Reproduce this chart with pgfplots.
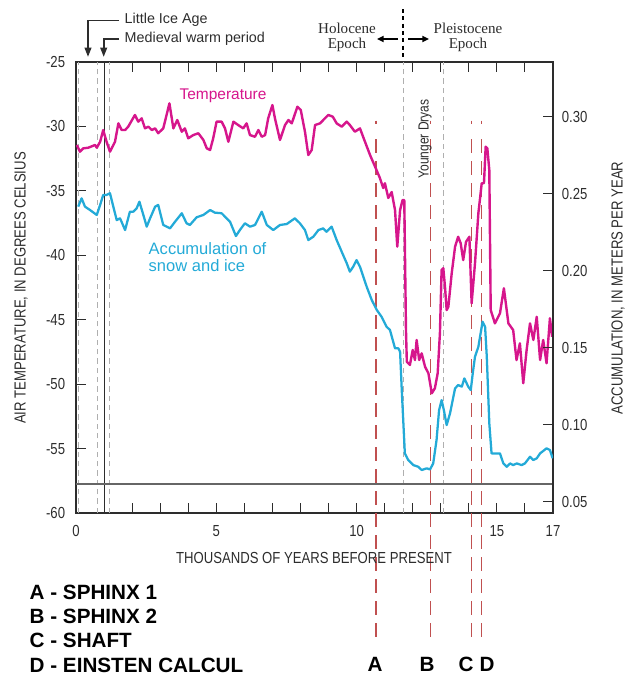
\documentclass[border=0pt]{standalone}
\usepackage{pgfplots}
\pgfplotsset{compat=1.18}
\usepackage{fontspec}
\setmainfont{Liberation Sans}
\newfontfamily\cond[FakeStretch=0.82]{Liberation Sans}
\newfontfamily\serif{Liberation Serif}
\usetikzlibrary{arrows.meta}

\definecolor{tempc}{RGB}{214,22,140}
\definecolor{accc}{RGB}{35,170,215}
\definecolor{markc}{RGB}{192,80,80}
\definecolor{lgray}{RGB}{175,175,175}
\definecolor{txt}{RGB}{45,45,45}

\pgfplotstableread{
x T
0.03 -31.44
0.14 -31.96
0.26 -31.70
0.44 -31.65
0.68 -31.44
0.74 -31.65
0.86 -31.19
0.97 -30.28
1.09 -31.19
1.21 -31.96
1.39 -31.19
1.51 -29.76
1.63 -30.28
1.75 -30.28
1.86 -30.02
2.10 -29.11
2.22 -29.63
2.34 -29.37
2.46 -30.15
2.58 -30.02
2.70 -30.28
2.82 -30.15
2.93 -30.53
3.11 -30.15
3.33 -28.21
3.47 -30.15
3.61 -29.50
3.77 -30.41
3.88 -30.15
4.00 -30.92
4.18 -30.67
4.36 -30.53
4.54 -31.05
4.66 -31.70
4.78 -31.83
4.89 -30.92
5.01 -29.63
5.19 -29.63
5.31 -30.15
5.43 -31.19
5.61 -29.63
5.78 -29.89
5.96 -30.15
6.08 -29.76
6.20 -30.67
6.38 -30.80
6.50 -30.28
6.62 -30.80
6.74 -30.67
6.85 -29.37
7.00 -28.34
7.09 -29.37
7.27 -31.05
7.45 -29.89
7.57 -29.50
7.69 -29.76
7.89 -28.47
8.01 -28.72
8.16 -30.41
8.28 -32.22
8.40 -31.83
8.52 -29.89
8.70 -29.76
8.87 -29.37
8.99 -29.11
9.15 -29.24
9.29 -29.76
9.47 -30.02
9.65 -29.63
9.76 -29.89
9.94 -30.41
10.12 -30.15
10.30 -31.19
10.48 -32.22
10.66 -33.13
10.83 -34.00
10.95 -34.78
11.01 -34.41
11.13 -35.55
11.25 -35.09
11.37 -36.49
11.45 -39.33
11.55 -36.49
11.64 -35.71
11.70 -35.71
11.76 -45.80
11.79 -48.26
11.90 -48.51
12.00 -47.35
12.08 -48.13
12.14 -46.57
12.23 -48.13
12.32 -47.61
12.44 -48.65
12.56 -49.16
12.68 -50.71
12.79 -50.32
12.89 -49.16
12.97 -46.05
13.03 -41.14
13.09 -41.00
13.15 -42.44
13.21 -44.25
13.27 -44.00
13.39 -41.40
13.51 -39.33
13.62 -38.56
13.71 -39.07
13.80 -40.37
13.90 -38.95
14.02 -38.56
14.10 -43.73
14.22 -40.62
14.34 -36.74
14.46 -34.41
14.54 -34.41
14.60 -31.57
14.66 -31.70
14.73 -33.38
14.78 -44.25
14.93 -45.28
15.11 -44.50
15.25 -42.56
15.41 -45.28
15.58 -45.80
15.70 -48.13
15.82 -46.83
15.94 -49.93
16.06 -47.35
16.18 -45.28
16.30 -46.57
16.42 -44.77
16.54 -48.13
16.65 -46.57
16.77 -48.38
16.89 -44.89
16.97 -46.32
}\temptable

\pgfplotstableread{
x A
0.08 0.2416
0.20 0.2470
0.32 0.2416
0.50 0.2394
0.74 0.2362
0.86 0.2427
0.97 0.2492
1.09 0.2492
1.21 0.2503
1.33 0.2416
1.45 0.2329
1.57 0.2340
1.75 0.2264
1.92 0.2383
2.04 0.2383
2.16 0.2405
2.26 0.2448
2.40 0.2362
2.52 0.2286
2.64 0.2340
2.82 0.2416
2.93 0.2427
3.11 0.2297
3.35 0.2275
3.53 0.2318
3.77 0.2373
3.94 0.2308
4.06 0.2297
4.30 0.2347
4.54 0.2362
4.78 0.2394
4.95 0.2377
5.19 0.2373
5.49 0.2318
5.70 0.2225
5.84 0.2264
6.02 0.2308
6.20 0.2286
6.38 0.2297
6.62 0.2383
6.80 0.2297
7.03 0.2264
7.27 0.2297
7.51 0.2303
7.80 0.2340
7.98 0.2308
8.16 0.2264
8.28 0.2199
8.46 0.2221
8.64 0.2264
8.81 0.2275
8.93 0.2253
9.11 0.2286
9.29 0.2199
9.47 0.2123
9.65 0.2048
9.76 0.1994
9.88 0.2026
10.00 0.2069
10.12 0.2026
10.24 0.1961
10.36 0.1896
10.54 0.1810
10.72 0.1745
10.89 0.1701
11.07 0.1636
11.19 0.1615
11.37 0.1496
11.49 0.1496
11.55 0.1474
11.61 0.1225
11.72 0.0814
11.84 0.0771
12.02 0.0738
12.20 0.0727
12.32 0.0706
12.50 0.0717
12.62 0.0710
12.73 0.0749
12.85 0.0901
12.94 0.1095
13.03 0.1160
13.11 0.1095
13.21 0.0998
13.33 0.1074
13.51 0.1236
13.62 0.1258
13.75 0.1247
13.84 0.1301
13.98 0.1247
14.07 0.1225
14.14 0.1334
14.22 0.1442
14.34 0.1506
14.49 0.1669
14.58 0.1636
14.64 0.1442
14.73 0.1009
14.81 0.0814
14.99 0.0814
15.11 0.0814
15.23 0.0749
15.35 0.0727
15.47 0.0749
15.58 0.0738
15.71 0.0749
15.88 0.0738
16.00 0.0749
16.18 0.0792
16.30 0.0771
16.42 0.0782
16.54 0.0814
16.77 0.0847
16.89 0.0836
16.99 0.0782
}\acctable

\pgfplotsset{
  chart/.style={
    width=357.75pt, height=338.25pt, scale only axis,
    at={(57pt,-384.75pt)}, anchor=south west,
    xmin=0, xmax=17,
    tick align=inside, major tick length=7.5pt,
    axis line style={line width=1pt, txt},
    tick style={line width=0.8pt, txt},
    ticklabel style={font=\cond\fontsize{12}{12}\selectfont, text=txt},
  }
}

\begin{document}
\begin{tikzpicture}
\begin{scope}[x=0.75pt,y=-0.75pt]
\path[use as bounding box] (0,0) rectangle (626,678);
\end{scope}

% temperature, left axis
\begin{axis}[chart, clip=false,
  ymin=-60, ymax=-25,
  xtick={0,...,17}, xtick pos=both,
  xticklabels={0,{},{},{},{},5,{},{},{},{},10,{},{},{},{},15,{},17},
  xticklabel style={inner sep=0pt, yshift=-9pt},
  ytick={-60,-55,...,-25}, ytick pos=left,
  yticklabels={-60,-55,-50,-45,-40,-35,-30,-25},
  yticklabel style={inner sep=0pt, xshift=-8pt},
]
\pgfplotsinvokeforeach{0.1,0.76,1.21,11.66,13.09}{
  \draw[lgray, line width=0.8pt, dash pattern=on 4pt off 3pt] (axis cs:#1,-60) -- (axis cs:#1,-25);
}
\draw[txt, line width=0.8pt] (axis cs:1.0,-60) -- (axis cs:1.0,-25);
\draw[black!60, line width=0.8pt] (axis cs:0,-57.75) -- (axis cs:17,-57.75);
\pgfplotsinvokeforeach{10.69,12.64,14.10,14.46}{
  \draw[markc, line width=1pt] (axis cs:#1,-29.55) -- (axis cs:#1,-29.8);
  \draw[markc, line width=1pt, dash pattern=on 10.5pt off 6pt] (axis cs:#1,-31.0) -- (axis cs:#1,-70.2);
}
\addplot[tempc, line width=1.8pt, line join=round] table[x=x, y=T] {\temptable};
\end{axis}

% accumulation, right axis
\begin{axis}[chart,
  ymin=0.0427, ymax=0.3355,
  axis x line=none, axis y line*=right,
  ytick={0.05,0.10,0.15,0.20,0.25,0.30}, ytick pos=right,
  yticklabels={0.05,0.10,0.15,0.20,0.25,0.30},
  yticklabel style={inner sep=0pt, xshift=6.5pt},
]
\addplot[accc, line width=1.7pt, line join=round] table[x=x, y=A] {\acctable};
\end{axis}

\begin{scope}[x=0.75pt,y=-0.75pt]
% period markers above the plot
\draw[txt, line width=1.4pt, -{Triangle[length=7pt,width=5pt]}] (119,20.5) -- (88,20.5) -- (88,57);
\draw[txt, line width=1.4pt, -{Triangle[length=7pt,width=5pt]}] (119,39) -- (103.7,39) -- (103.7,57);
\node[anchor=west, text=txt, font=\fontsize{10.75}{11}\selectfont] at (120,19.5) {Little Ice Age};
\node[anchor=west, text=txt, font=\fontsize{10.75}{11}\selectfont] at (120,38.5) {Medieval warm period};
\node[align=center, text=txt, font=\serif\fontsize{11.3}{11.3}\selectfont] at (347,37) {Holocene\\Epoch};
\node[align=center, text=txt, font=\serif\fontsize{11.3}{11.3}\selectfont] at (468,37) {Pleistocene\\Epoch};
\draw[black, line width=1.2pt, -{Triangle[length=5pt,width=4.5pt]}] (398,39) -- (377,39);
\draw[black, line width=1.2pt, -{Triangle[length=5pt,width=4.5pt]}] (408,39) -- (429,39);
\draw[black, line width=1.5pt, dash pattern=on 3pt off 2.5pt] (402.7,9) -- (402.7,58);
% curve labels
\node[text=tempc, font=\fontsize{11.6}{12}\selectfont] at (223,96) {Temperature};
\node[anchor=west, align=left, text=accc, font=\fontsize{12.4}{12.75}\selectfont] at (144,257) {Accumulation of\\snow and ice};
\node[rotate=90, text=txt, font=\cond\fontsize{11}{11}\selectfont] at (425,139) {Younger Dryas};
% axis titles
\node[rotate=90, text=txt, font=\cond\fontsize{12}{12}\selectfont] at (21,288) {AIR TEMPERATURE, IN DEGREES CELSIUS};
\node[rotate=90, text=txt, font=\cond\fontsize{12}{12}\selectfont] at (618,288) {ACCUMULATION, IN METERS PER YEAR};
\node[text=txt, font=\cond\fontsize{12}{12}\selectfont] at (314,558) {THOUSANDS OF YEARS BEFORE PRESENT};
% key
\begin{scope}[every node/.style={anchor=west, font=\bfseries\fontsize{15.5}{16}\selectfont}]
\node at (25,592) {A - SPHINX 1};
\node at (25,616) {B - SPHINX 2};
\node at (25,640) {C - SHAFT};
\node at (25,665) {D - EINSTEN CALCUL};
\end{scope}
\begin{scope}[every node/.style={font=\bfseries\fontsize{15.5}{16}\selectfont}]
\node at (375,664) {A};
\node at (427,664) {B};
\node at (466,664) {C};
\node at (487,664) {D};
\end{scope}
\end{scope}
\end{tikzpicture}
\end{document}
